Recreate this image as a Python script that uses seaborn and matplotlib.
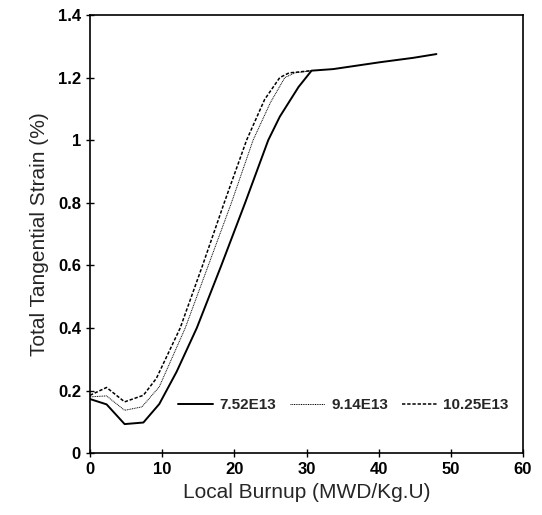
import pandas as pd
import matplotlib
matplotlib.use("Agg")
import matplotlib.pyplot as plt
import seaborn as sns

# --- Data ---
x_752 = [0, 2.3, 4.8, 7.4, 9.6, 12.0, 14.8, 18.2, 21.5, 24.7, 26.3, 28.9, 30.7,
         33.7, 40.2, 44.8, 48.0]
y_752 = [0.173, 0.156, 0.093, 0.098, 0.157, 0.26, 0.40, 0.60, 0.80, 1.00, 1.075,
         1.17, 1.222, 1.227, 1.249, 1.263, 1.275]

x_914 = [0, 2.3, 4.8, 7.2, 9.6, 13.2, 16.4, 19.6, 22.6, 25.0, 27.0, 28.4, 30.7]
y_914 = [0.18, 0.183, 0.137, 0.148, 0.212, 0.40, 0.60, 0.80, 1.00, 1.12, 1.20,
         1.215, 1.222]

x_1025 = [0, 2.3, 4.8, 7.4, 9.2, 12.5, 15.6, 18.6, 21.7, 24.2, 26.3, 27.6, 28.6, 30.7]
y_1025 = [0.185, 0.21, 0.164, 0.185, 0.239, 0.40, 0.60, 0.80, 1.00, 1.13, 1.20,
          1.215, 1.217, 1.222]

series_names = ["7.52E13", "9.14E13", "10.25E13"]
x_ticks = [0, 10, 20, 30, 40, 50, 60]
y_ticks = [0, 0.2, 0.4, 0.6, 0.8, 1.0, 1.2, 1.4]
y_tick_labels = ["0", "0.2", "0.4", "0.6", "0.8", "1", "1.2", "1.4"]

# --- Build long table ---
frames = []
for name, xs, ys in zip(series_names, [x_752, x_914, x_1025], [y_752, y_914, y_1025]):
    frames.append(pd.DataFrame({"burnup": xs, "strain": ys, "fluence": name}))
df = pd.concat(frames, ignore_index=True)

# --- Plot ---
sns.set_style("ticks")
plt.rcParams["font.family"] = ["Liberation Sans", "DejaVu Sans"]

fig = plt.figure(figsize=(5.42, 5.15), dpi=100)
ax = fig.add_axes([0.166, 0.120, 0.799, 0.851])

sns.lineplot(data=df, x="burnup", y="strain", hue="fluence", style="fluence",
             hue_order=series_names, style_order=series_names,
             palette=["black"] * 3,
             dashes={"7.52E13": "", "9.14E13": (1, 0.8), "10.25E13": (2.2, 1.2)},
             sort=False, estimator=None, ax=ax, legend=True)

lws = [1.4, 0.7, 1.1]
for line, lw in zip(ax.get_lines()[:3], lws):
    line.set_linewidth(lw)

handles, labels = ax.get_legend_handles_labels()
for h, lw in zip(handles, lws):
    h.set_linewidth(lw)
ax.legend(handles, labels, ncol=3, frameon=False, loc="center",
          bbox_to_anchor=(0.585, 0.109), handlelength=2.3,
          columnspacing=0.9, handletextpad=0.4, prop={"weight": "bold", "size": 11})

ax.set_xlim(0, 60)
ax.set_ylim(0, 1.4)
ax.set_xticks(x_ticks)
ax.set_yticks(y_ticks)
ax.set_yticklabels(y_tick_labels)
ax.tick_params(direction="inout", length=6, width=1, labelsize=12, colors="black")
for lab in ax.get_xticklabels() + ax.get_yticklabels():
    lab.set_fontweight("bold")

for side in ["top", "right", "left", "bottom"]:
    ax.spines[side].set_visible(True)
    ax.spines[side].set_color("black")
    ax.spines[side].set_linewidth(1.2)

ax.set_xlabel("Local Burnup (MWD/Kg.U)", fontsize=15, labelpad=4)
ax.set_ylabel("Total Tangential Strain (%)", fontsize=15, labelpad=6)

fig.savefig("out.png", dpi=100)
